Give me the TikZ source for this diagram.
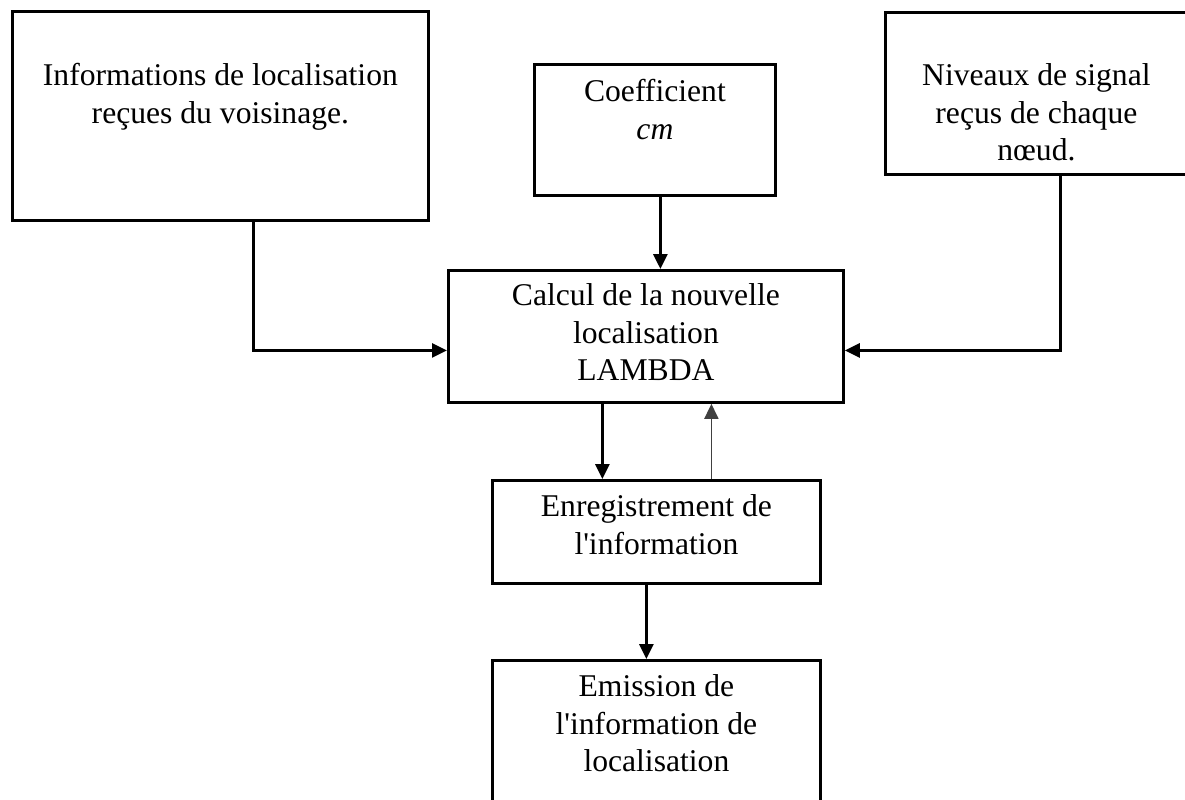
\documentclass[tikz,border=0pt]{standalone}
\usepackage{fontspec}
\setmainfont{Liberation Serif}
\usetikzlibrary{positioning,arrows.meta}

\tikzset{
  boite/.style={draw=black,line width=1.6pt,inner sep=0pt,anchor=north west},
  texte/.style={anchor=north,inner sep=0pt,align=center,font=\fontsize{18}{21.5}\selectfont},
  fleche/.style={line width=1.6pt,-{Triangle[length=0.3cm,width=0.28cm]}}
}

\begin{document}
\begin{tikzpicture}

\useasboundingbox (0,0) rectangle (23.70,-15.98);

\node[boite,minimum width=8.32cm,minimum height=4.18cm] (info) at (0.22,-0.20) {};
\node[boite,minimum width=4.82cm,minimum height=2.62cm] (coef) at (10.66,-1.26) {};
\node[boite,minimum width=6.04cm,minimum height=3.24cm] (niveaux) at (17.68,-0.22) {};
\node[boite,minimum width=7.90cm,minimum height=2.64cm] (calcul) at (8.94,-5.38) {};
\node[boite,minimum width=6.56cm,minimum height=2.06cm] (enreg) at (9.82,-9.58) {};
\node[boite,minimum width=6.56cm,minimum height=3.20cm] (emis) at (9.82,-13.18) {};

\node[texte,below=1.06cm of info.north] (info-t) {Informations de localisation\\reçues du voisinage.};
\node[texte,below=0.32cm of coef.north] (coef-t) {Coefficient\\\textit{cm}};
\node[texte,below=1.04cm of niveaux.north] (niveaux-t) {Niveaux de signal\\reçus de chaque\\nœud.};
\node[texte,below=0.28cm of calcul.north] (calcul-t) {Calcul de la nouvelle\\localisation\\LAMBDA};
\node[texte,below=0.30cm of enreg.north] (enreg-t) {Enregistrement de\\l\textquotesingle information};
\node[texte,below=0.30cm of emis.north] (emis-t) {Emission de\\l\textquotesingle information de\\localisation};

% entrees du calcul
\draw[fleche] ([xshift=0.66cm]info.south) |- ([yshift=-0.28cm]calcul.west);
\draw[fleche] ([xshift=0.48cm]niveaux.south) |- ([yshift=-0.28cm]calcul.east);
\draw[fleche] ([xshift=0.11cm]coef.south) -- ([xshift=0.11cm]coef.south |- calcul.north);

% enregistrement et emission
\draw[fleche] ([xshift=-0.87cm]calcul.south) -- ([xshift=-0.87cm]calcul.south |- enreg.north);
\draw[fleche,line width=1pt,draw=black!75] ([xshift=1.31cm]calcul.south |- enreg.north) -- ([xshift=1.31cm]calcul.south);
\draw[fleche] ([xshift=-0.20cm]enreg.south) -- ([xshift=-0.20cm]enreg.south |- emis.north);

\end{tikzpicture}
\end{document}
